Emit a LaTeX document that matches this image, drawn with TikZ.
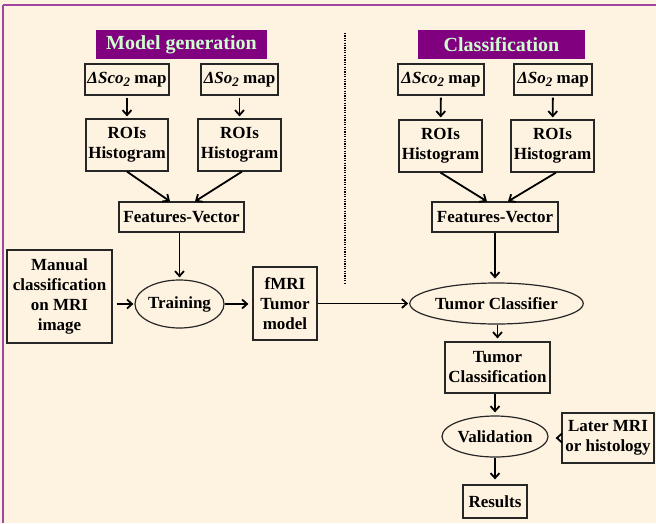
\documentclass[tikz,border=0pt]{standalone}
\usepackage{fontspec}
\setmainfont{Liberation Serif}
\usetikzlibrary{arrows.meta,calc,shapes.geometric}
\definecolor{bgcream}{RGB}{254,243,224}
\definecolor{framepurple}{RGB}{160,70,160}
\definecolor{titlepurple}{RGB}{128,0,128}
\definecolor{titletext}{RGB}{204,255,204}
\newcommand{\dmap}[1]{\textit{ΔS#1\raisebox{-0.45ex}{\fontsize{13}{13}\selectfont 2}} map}
\tikzset{
  boxnode/.style={draw=black!85,line width=1.2pt,align=center,inner sep=1pt,
    font=\fontsize{17}{20}\selectfont\bfseries},
  ellnode/.style={boxnode,ellipse,inner sep=0pt},
  titlenode/.style={fill=titlepurple,text=titletext,inner sep=0pt,
    font=\fontsize{20}{22}\selectfont\bfseries},
  arr/.style={line width=1.8pt,-{Straight Barb[length=5pt,width=9pt]}},
}
\begin{document}
\begin{tikzpicture}[x=1pt,y=-1pt]
\fill[bgcream] (0,0) rectangle (656,523);
\useasboundingbox (0,0) rectangle (656,523);
\draw[framepurple,line width=1.6pt] (3,5) -- (656,5);
\draw[framepurple,line width=1.6pt] (3,5) -- (3,523);

% titles
\node[titlenode,minimum width=171pt,minimum height=29pt] (mg) at (181.5,44.5) {Model generation};
\node[titlenode,minimum width=167pt,minimum height=29pt] (cl) at (501.5,44.5) {Classification};

% left column
\node[boxnode,minimum width=84pt,minimum height=31pt] (sco1) at (127,79.5) {\dmap{co}};
\node[boxnode,minimum width=77pt,minimum height=31pt] (so1) at (239.5,79.5) {\dmap{o}};
\node[boxnode,minimum width=82pt,minimum height=52pt] (roia) at (127,145) {ROIs\\Histogram};
\node[boxnode,minimum width=83pt,minimum height=52pt] (roib) at (239.5,145) {ROIs\\Histogram};
\node[boxnode,minimum width=125pt,minimum height=30pt] (fv1) at (181.5,217) {Features-Vector};
\node[boxnode,minimum width=105pt,minimum height=93pt] (man) at (59.5,296.5) {Manual\\classification\\on MRI\\image};
\node[ellnode,minimum width=83pt,minimum height=48pt] (train) at (179.5,304) {Training};
\node[boxnode,minimum width=64pt,minimum height=73pt] (fmri) at (285,303.5) {fMRI\\Tumor\\model};

% right column
\node[boxnode,minimum width=86pt,minimum height=31pt] (sco2) at (441,79.5) {\dmap{co}};
\node[boxnode,minimum width=78pt,minimum height=31pt] (so2) at (553,79.5) {\dmap{o}};
\node[boxnode,minimum width=83pt,minimum height=52pt] (roic) at (440.5,146) {ROIs\\Histogram};
\node[boxnode,minimum width=83pt,minimum height=52pt] (roid) at (552.5,146) {ROIs\\Histogram};
\node[boxnode,minimum width=126pt,minimum height=30pt] (fv2) at (495,217) {Features-Vector};
\node[ellnode,minimum width=143pt,minimum height=41pt] (tc) at (496.5,303.5) {Tumor Classifier};
\node[boxnode,minimum width=105pt,minimum height=51pt] (tcl) at (497.5,367.5) {Tumor\\Classification};
\node[ellnode,minimum width=88pt,minimum height=41pt] (val) at (495,436.5) {Validation};
\node[boxnode,minimum width=92pt,minimum height=50pt] (later) at (608,438) {Later MRI\\or histology};
\node[boxnode,minimum width=64pt,minimum height=33pt] (res) at (495,501.5) {Results};

% separator
\coordinate (sepA) at (345,33);
\coordinate (sepB) at (345,283);
\draw[line width=1.2pt,dash pattern=on 1.2pt off 1.2pt] (sepA) -- (sepB);

% arrows left
\draw[arr,shorten <=2pt,shorten >=2pt] (sco1) -- (roia);
\draw[arr,shorten <=2pt,shorten >=2pt] (so1) -- (so1 |- roib.north);
\draw[arr] (roia.south) -- ($(fv1.north)+(-11.5,0)$);
\draw[arr] ($(roib.south)+(2.5,0)$) -- ($(fv1.north)+(13.5,0)$);
\draw[arr,shorten >=2pt] (fv1.south -| train.north) -- (train.north);
\draw[arr,shorten <=4pt,shorten >=1pt] (man.east |- train.west) -- (train.west);
\draw[arr,shorten >=4pt] (train.east) -- (train.east -| fmri.west);
\draw[arr,shorten >=1pt] (fmri.east) -- (tc.west);

% arrows right
\draw[arr,shorten <=2pt,shorten >=2pt] (sco2) -- (roic);
\draw[arr,shorten <=2pt,shorten >=2pt] (so2) -- (roid);
\draw[arr] (roic.south) -- ($(fv2.north)+(-8,0)$);
\draw[arr] ($(roid.south)+(3.5,0)$) -- ($(fv2.north)+(13,0)$);
\draw[arr,shorten >=4pt] (fv2.south) -- (fv2.south |- tc.north);
\draw[arr,shorten >=3pt] (tc.south -| tcl.north) -- (tcl.north);
\draw[arr,shorten >=3pt] (tcl.south -| val.north) -- (val.north);
\draw[arr,shorten <=2pt,shorten >=7pt] (later.west) -- (later.west -| val.east);
\draw[arr,shorten >=5pt] (val.south) -- (res.north);
\end{tikzpicture}
\end{document}
